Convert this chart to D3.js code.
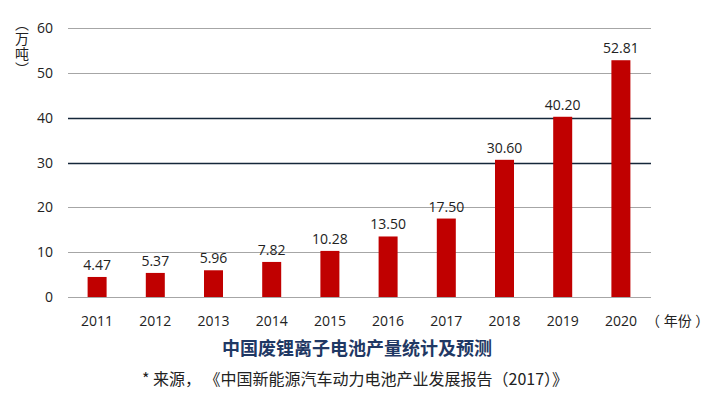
<!DOCTYPE html>
<html>
<head>
<meta charset="utf-8">
<script src="https://cdn.jsdelivr.net/npm/d3@7"></script>
<style>
  body { margin: 0; background: #fff; }
  svg { display: block; font-family: "Open Sans", "Noto Sans CJK SC", sans-serif; }
</style>
</head>
<body>
<div id="chart"></div>
<script>
// data
const years = ["2011", "2012", "2013", "2014", "2015", "2016", "2017", "2018", "2019", "2020"];
const output = [4.47, 5.37, 5.96, 7.82, 10.28, 13.5, 17.5, 30.6, 40.2, 52.81];
const yTicks = [0, 10, 20, 30, 40, 50, 60];
const darkTicks = [30, 40];

const title = "中国废锂离子电池产量统计及预测";
const source = "* 来源，《中国新能源汽车动力电池产业发展报告（2017）》";

const width = 712, height = 393;
const plot = {left: 68, right: 650, top: 28, bottom: 297};

const svg = d3.select("#chart").append("svg")
  .attr("width", width)
  .attr("height", height);

const x = d3.scaleBand()
  .domain(years)
  .range([plot.left, plot.right])
  .padding(0);

const y = d3.scaleLinear()
  .domain([0, 60])
  .range([plot.bottom, plot.top]);

// gridlines + y labels
svg.append("g")
  .selectAll("line")
  .data(yTicks)
  .enter()
  .append("line")
  .attr("x1", plot.left)
  .attr("x2", plot.right + 1)
  .attr("y1", d => Math.round(y(d)) + 0.5)
  .attr("y2", d => Math.round(y(d)) + 0.5)
  .attr("stroke", d => darkTicks.includes(d) ? "#15273a" : "#a6a6a6")
  .attr("stroke-width", d => darkTicks.includes(d) ? 1.3 : 1);

svg.append("g")
  .selectAll("text")
  .data(yTicks)
  .enter()
  .append("text")
  .attr("x", 53)
  .attr("y", d => y(d) + 5)
  .attr("text-anchor", "end")
  .attr("font-size", 14)
  .attr("fill", "#222")
  .text(d => d);

// bars
const barW = 19;
svg.append("g")
  .selectAll("rect")
  .data(output)
  .enter()
  .append("rect")
  .attr("x", (d, i) => x(years[i]) + x.bandwidth() / 2 - barW / 2)
  .attr("y", d => y(d))
  .attr("width", barW)
  .attr("height", d => y(0) - y(d))
  .attr("fill", "#c00000");

// value labels
svg.append("g")
  .selectAll("text")
  .data(output)
  .enter()
  .append("text")
  .attr("x", (d, i) => x(years[i]) + x.bandwidth() / 2)
  .attr("y", d => y(d) - 7)
  .attr("text-anchor", "middle")
  .attr("font-size", 14)
  .attr("fill", "#222")
  .text(d => d.toFixed(2));

// year labels
svg.append("g")
  .selectAll("text")
  .data(years)
  .enter()
  .append("text")
  .attr("x", d => x(d) + x.bandwidth() / 2)
  .attr("y", 326)
  .attr("text-anchor", "middle")
  .attr("font-size", 14)
  .attr("fill", "#222")
  .text(d => d);

svg.append("text")
  .attr("x", 646)
  .attr("y", 326)
  .attr("font-size", 14)
  .attr("fill", "#222")
  .attr("xml:space", "preserve")
  .text("（ 年份 ）");

// vertical unit label
svg.append("text")
  .attr("x", 22)
  .attr("y", 17)
  .style("writing-mode", "vertical-rl")
  .style("letter-spacing", "1px")
  .attr("font-size", 14)
  .attr("fill", "#222")
  .attr("font-family", "Noto Sans CJK SC")
  .text("（万吨）");

svg.append("text")
  .attr("x", 357)
  .attr("y", 355)
  .attr("text-anchor", "middle")
  .attr("font-size", 18)
  .attr("font-weight", "bold")
  .attr("fill", "#1f3864")
  .attr("font-family", "Noto Sans CJK SC")
  .text(title);

svg.append("text")
  .attr("x", 355)
  .attr("y", 385)
  .attr("text-anchor", "middle")
  .attr("font-size", 16)
  .attr("fill", "#222")
  .attr("font-family", "Noto Sans CJK SC")
  .attr("xml:space", "preserve")
  .text(source.replace("，", "， "));
</script>
</body>
</html>
